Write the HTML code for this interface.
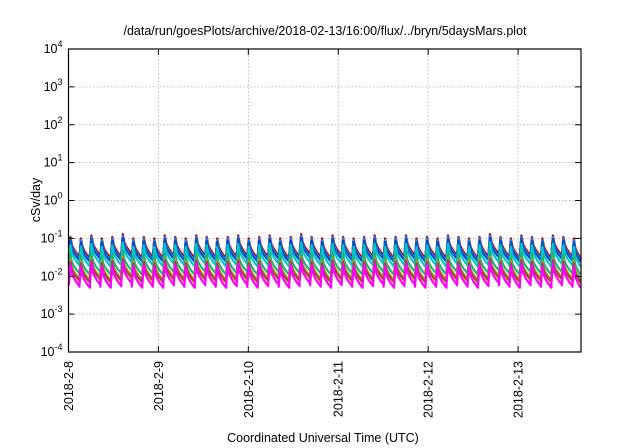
<!DOCTYPE html>
<html><head><meta charset="utf-8"><style>
body{margin:0;background:#fff;}
svg{display:block;font-family:"Liberation Sans",sans-serif;}
</style></head><body>
<svg id="c" width="640" height="448">
<rect width="640" height="448" fill="#fff"/>
<text x="325" y="35" font-size="12.5" text-anchor="middle">/data/run/goesPlots/archive/2018-02-13/16:00/flux/../bryn/5daysMars.plot</text>
<text transform="translate(40,200) rotate(-90)" font-size="12.5" text-anchor="middle">cSv/day</text>
<text x="323" y="442" font-size="12.5" text-anchor="middle">Coordinated Universal Time (UTC)</text>
<g id="grid"></g><g id="series"></g><g id="axes"></g>
</svg>
<script>
const xTickLabels=["2018-2-8","2018-2-9","2018-2-10","2018-2-11","2018-2-12","2018-2-13"];
const yTickExps=[4,3,2,1,0,-1,-2,-3,-4];
const peakHours=[0.5,3.3,6.1,8.9,11.7,14.5,17.3,20.1,22.9,25.7,28.5,31.3,34.1,36.9,39.7,42.5,45.3,48.1,50.9,53.7,56.5,59.3,62.1,64.9,67.7,70.5,73.3,76.1,78.9,81.7,84.5,87.3,90.1,92.9,95.7,98.5,101.3,104.1,106.9,109.7,112.5,115.3,118.1,120.9,123.7,126.5,129.3,132.1,134.9];
const redPeaks=[0.11,0.1,0.12,0.1,0.11,0.13,0.1,0.11,0.1,0.12,0.11,0.1,0.12,0.11,0.1,0.11,0.12,0.1,0.11,0.12,0.1,0.11,0.13,0.11,0.1,0.12,0.11,0.1,0.11,0.12,0.1,0.11,0.12,0.1,0.11,0.1,0.12,0.11,0.1,0.11,0.13,0.11,0.1,0.12,0.11,0.1,0.12,0.11,0.1];
const seriesColors=["#ff0000","#8b0000","#1e90ff","#0050c8","#00c8c8","#20b080","#b0a000","#ffe000","#a04060","#ff00ff"];
const seriesPeakRatio=[1.0,0.95,0.9,0.8,0.6,0.35,0.25,0.2,0.22,0.18];
const seriesTroughRatio=[0.3,0.28,0.26,0.24,0.18,0.11,0.08,0.065,0.07,0.05];
const NS="http://www.w3.org/2000/svg";
const L=68.5,R=581,T=49,B=352,totalH=5.7*24;
const xs=h=>L+(R-L)*h/totalH;
const ys=v=>B-(Math.log10(v)+4)*(B-T)/8;
function mk(tag,attrs,parent){const e=document.createElementNS(NS,tag);for(const k in attrs)e.setAttribute(k,attrs[k]);parent.appendChild(e);return e;}
const grid=document.getElementById('grid'),axes=document.getElementById('axes'),ser=document.getElementById('series');
yTickExps.forEach(ex=>{const y=ys(Math.pow(10,ex));
 if(ex<4&&ex>-4){const g=mk('line',{x1:L,x2:R,y1:y,y2:y,stroke:'#aaa','stroke-width':0.8,'stroke-dasharray':'1.5,2'},grid);
 }
 mk('line',{x1:L,x2:L+6,y1:y,y2:y,stroke:'#000'},axes);mk('line',{x1:R,x2:R-6,y1:y,y2:y,stroke:'#000'},axes);
 const t=mk('text',{x:L-6,y:y+4,'font-size':12.5,'text-anchor':'end'},axes);
 
 t.textContent='10';const s=mk('tspan',{dy:-6,'font-size':9},t);s.textContent=String(ex);});
xTickLabels.forEach((lab,i)=>{const x=xs(i*24);
 if(i>0){const g=mk('line',{x1:x,x2:x,y1:T,y2:B,stroke:'#aaa','stroke-width':0.8,'stroke-dasharray':'1.5,2'},grid);
 }
 mk('line',{x1:x,x2:x,y1:B,y2:B-6,stroke:'#000'},axes);mk('line',{x1:x,x2:x,y1:T,y2:T+6,stroke:'#000'},axes);
 const t=mk('text',{transform:`translate(${x+4.5},361) rotate(-90)`,'font-size':12.5,'text-anchor':'end'},axes);
 t.textContent=lab;});
const fr=mk('rect',{x:L,y:T,width:R-L,height:B-T,fill:'none',stroke:'#000','stroke-width':1.2},axes);

seriesColors.forEach((col,si)=>{let d='';
 peakHours.forEach((ph,i)=>{const p=redPeaks[i]*seriesPeakRatio[si],tr=redPeaks[i]*seriesTroughRatio[si];
  const next=i+1<peakHours.length?peakHours[i+1]:totalH+0.3;
  const rise=ph-0.4;d+=(i==0?'M':'L')+xs(Math.max(0,rise)).toFixed(1)+','+ys(tr*1.05).toFixed(1);
  d+='L'+xs(ph).toFixed(1)+','+ys(p).toFixed(1);
  const end=Math.min(next-0.4,totalH);
  for(let k=1;k<=6;k++){const h=ph+(end-ph)*k/6;const v=p*Math.pow(tr/p,Math.sqrt(k/6));d+='L'+xs(h).toFixed(1)+','+ys(v).toFixed(1);}
 });
 const pth=mk('path',{d:d,fill:'none',stroke:col,'stroke-width':2.2,'stroke-linejoin':'round'},ser);
 });
</script>
</body></html>
